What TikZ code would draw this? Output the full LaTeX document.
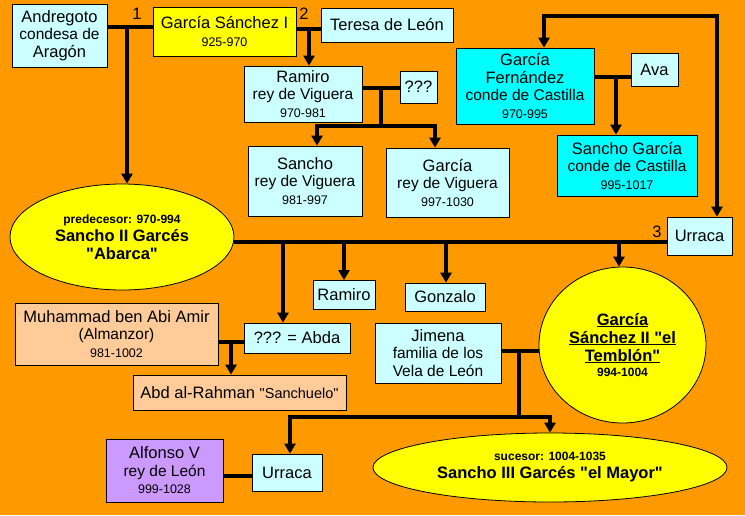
\documentclass[tikz,border=0pt]{standalone}
\usepackage{fontspec}
\setmainfont{Liberation Sans}
\usetikzlibrary{arrows.meta,shapes.geometric,calc}
\definecolor{bgor}{RGB}{255,153,0}
\definecolor{lcy}{RGB}{204,255,255}
\definecolor{cy}{RGB}{0,255,255}
\definecolor{yel}{RGB}{255,255,0}
\definecolor{peach}{RGB}{255,204,153}
\definecolor{lav}{RGB}{204,153,255}
\newcommand{\fsz}[1]{\fontsize{#1}{#1}\selectfont}
\newcommand{\q}{\textquotedbl}
\newcommand{\ulin}[1]{\setbox0=\hbox{#1}\leavevmode\rlap{\rule[-2pt]{\wd0}{1.4pt}}\box0}
\tikzset{
  box/.style={draw=black, line width=0.8pt, fill=lcy, inner sep=0pt, align=center,
              font=\fontsize{16.5}{17.5}\selectfont},
  ell/.style={draw=black, line width=0.8pt, fill=yel, ellipse, inner sep=0pt, align=center,
              font=\fontsize{16.5}{18}\selectfont\bfseries},
  conn/.style={line width=3.8pt, draw=black},
  arr/.style={conn, -{Triangle[length=10pt,width=11pt]}},
  arrboth/.style={conn, {Triangle[length=10pt,width=11pt]}-{Triangle[length=10pt,width=11pt]}},
  lbl/.style={font=\fontsize{16.5}{16.5}\selectfont, inner sep=0pt}
}
\begin{document}
\begin{tikzpicture}[x=1pt,y=-1pt]
\fill[bgor] (0,0) rectangle (745,515);
\useasboundingbox (0,0) rectangle (745,515);

% nodes
\node[box, minimum width=95pt, minimum height=63pt] (andr) at (59.5,35.5)
  {Andregoto\\{\fsz{15.5}condesa de}\\Aragón};
\node[box, fill=yel, minimum width=143pt, minimum height=49pt] (gsi) at (224.5,31.5)
  {García Sánchez I\\{\fsz{12.5}925-970}};
\node[box, minimum width=132pt, minimum height=34pt] (ter) at (387,25) {Teresa de León};
\node[box, minimum width=118pt, minimum height=56pt] (ramV) at (303,94)
  {Ramiro\\{\fsz{15.5}rey de Viguera}\\{\fsz{12.5}970-981}};
\node[box, minimum width=37pt, minimum height=32pt] (qq) at (418.5,87) {???};
\node[box, minimum width=114pt, minimum height=70pt] (sanV) at (305,181)
  {Sancho\\{\fsz{15.5}rey de Viguera}\\{\fsz{12.5}981-997}};
\node[box, minimum width=123pt, minimum height=69pt] (garV) at (447.5,182.5)
  {García\\{\fsz{15.5}rey de Viguera}\\{\fsz{12.5}997-1030}};
\node[box, fill=cy, minimum width=138pt, minimum height=76pt] (gf) at (525,86)
  {García\\Fernández\\{\fsz{15.5}conde de Castilla}\\{\fsz{12.5}970-995}};
\node[box, minimum width=47pt, minimum height=33pt] (ava) at (654.5,69.5) {Ava};
\node[box, fill=cy, minimum width=140pt, minimum height=61pt] (sg) at (627,165.5)
  {Sancho García\\{\fsz{15.5}conde de Castilla}\\{\fsz{12.5}995-1017}};
\node[box, minimum width=65pt, minimum height=38pt] (urR) at (699.5,236) {Urraca};

\node[ell, minimum width=224pt, minimum height=106pt] (s2) at (122,237)
  {{\fsz{12}predecesor: 970-994}\\Sancho II Garcés\\\q Abarca\q};

\node[box, minimum width=62pt, minimum height=29pt] (ramS) at (344,295) {Ramiro};
\node[box, minimum width=80pt, minimum height=28pt] (gon) at (445,297) {Gonzalo};
\node[box, minimum width=106pt, minimum height=30pt] (abda) at (297,338) {??? = Abda};
\node[box, fill=peach, minimum width=203pt, minimum height=62pt] (muh) at (116.5,334)
  {Muhammad ben Abi Amir\\{\fsz{15.5}(Almanzor)}\\{\fsz{12.5}981-1002}};
\node[box, fill=peach, minimum width=213pt, minimum height=35pt] (abd) at (239.5,392.5)
  {Abd al-Rahman {\fsz{14.5}\q Sanchuelo\q}};
\node[box, minimum width=126pt, minimum height=60pt] (jim) at (438,353)
  {Jimena\\{\fsz{15.5}familia de los}\\{\fsz{15.5}Vela de León}};
\node[ell, minimum width=167pt, minimum height=156pt] (gs2) at (622.5,345)
  {\ulin{García}\\\ulin{Sánchez II \q el}\\\ulin{Temblón\q}\\[-3pt]{\fsz{12}994-1004}};
\node[box, fill=lav, minimum width=117pt, minimum height=63pt] (alf) at (164.5,470.5)
  {Alfonso V\\{\fsz{15.5}rey de León}\\{\fsz{12.5}999-1028}};
\node[box, minimum width=70pt, minimum height=37pt] (urB) at (287,472.5) {Urraca};
\node[ell, minimum width=354pt, minimum height=69pt] (s3) at (550,467.5)
  {{\fsz{12}sucesor: 1004-1035}\\Sancho III Garcés \q el Mayor\q};

% labels
\node[lbl] (l1) at (137,14) {1};
\node[lbl] (l2) at (304,14) {2};
\node[lbl] (l3) at (657,232) {3};

% connectors
\coordinate (m1) at (127,27);
\draw[conn] (andr.east|-m1) -- (gsi.west|-m1);
\draw[arr] (m1) -- (m1|-s2.north);

\coordinate (m2) at (309,29);
\draw[conn] (gsi.east|-m2) -- (ter.west|-m2);
\draw[arr] (m2) -- (m2|-ramV.north);

\coordinate (m3) at (381,88);
\coordinate (b3) at (381,126);
\draw[conn] (ramV.east|-m3) -- (qq.west|-m3);
\draw[conn] (m3) -- (b3);
\draw[arr] (b3) -| ($(sanV.north)+(12,0)$);
\draw[arr] (b3) -| ($(garV.north)+(-12.5,0)$);

\coordinate (m4) at (616,77);
\draw[conn] (gf.east|-m4) -- (ava.west|-m4);
\draw[arr] (m4) -- (m4|-sg.north);

\coordinate (tl) at (544,16);
\coordinate (tr) at (717,16);
\draw[arrboth] (tl|-gf.north) -- (tl) -- (tr) -- (tr|-urR.north);

\coordinate (m5) at (234,242);
\draw[conn] (m5) -- (urR.west|-m5);
\coordinate (c1) at (283,242);
\coordinate (c2) at (344,242);
\coordinate (c3) at (446,242);
\coordinate (c4) at (619,242);
\draw[arr] (c1) -- (c1|-abda.north);
\draw[arr] (c2) -- (c2|-ramS.north);
\draw[arr] (c3) -- (c3|-gon.north);
\draw[arr] (c4) -- (c4|-gs2.north);

\coordinate (m6) at (231,342);
\draw[conn] (muh.east|-m6) -- (abda.west|-m6);
\draw[arr] (m6) -- (m6|-abd.north);

\coordinate (m7) at (519,351);
\coordinate (b7) at (519,417);
\draw[conn] (jim.east|-m7) -- (gs2.west|-m7);
\draw[conn] (m7) -- (b7);
\draw[arr] (b7) -| ($(urB.north)+(3,0)$);
\draw[arr] (b7) -| (s3.north);

\coordinate (m8) at (237,476);
\draw[conn] (alf.east|-m8) -- (urB.west|-m8);
\end{tikzpicture}
\end{document}
